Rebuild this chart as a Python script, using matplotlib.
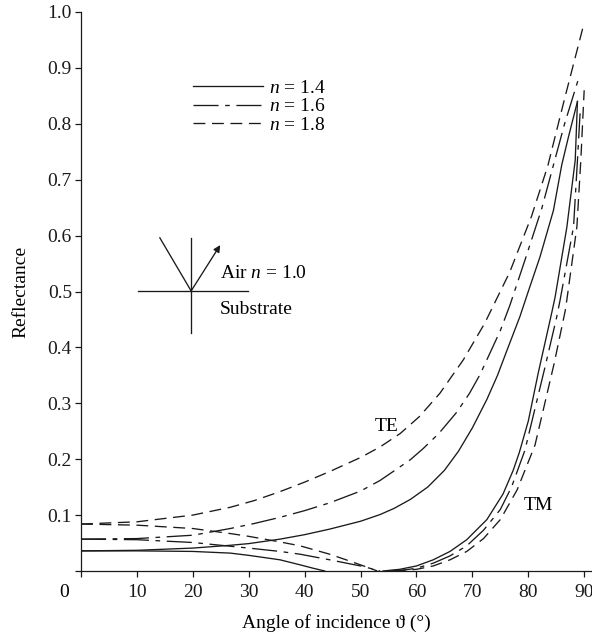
import matplotlib
matplotlib.use("Agg")
import matplotlib.pyplot as plt

plt.rcParams['font.family'] = ['Liberation Serif', 'DejaVu Serif']
plt.rcParams['mathtext.fontset'] = 'custom'
plt.rcParams['mathtext.rm'] = 'Liberation Serif'
plt.rcParams['mathtext.it'] = 'Liberation Serif:italic'

# Valores (angulo en grados, reflectancia)
te_14_ang = [0, 10, 20, 26.7, 30, 35.6, 40, 44.5, 50, 53.5, 56, 58.9, 62, 65,
             67.5, 70, 72.6, 74.5, 76.2, 78.5, 80, 82.1, 84.5, 86.0, 87.2,
             88.8]
te_14_ref = [0.036, 0.037, 0.041, 0.046, 0.049, 0.057, 0.065, 0.075, 0.089,
             0.101, 0.112, 0.128, 0.150, 0.180, 0.214, 0.256, 0.307, 0.350,
             0.395, 0.455, 0.500, 0.562, 0.645, 0.727, 0.777, 0.840]

te_16_ang = [0, 10, 20, 26.7, 31, 35.6, 40, 44.5, 50, 53.5, 58.9, 61.2, 64,
             67.2, 69.5, 71.4, 75, 76.7, 79.4, 82.4, 84.2, 86.5, 89.0]
te_16_ref = [0.057, 0.058, 0.064, 0.076, 0.085, 0.096, 0.108, 0.122, 0.143,
             0.162, 0.199, 0.219, 0.246, 0.284, 0.318, 0.352, 0.430, 0.475,
             0.556, 0.648, 0.715, 0.800, 0.881]

te_18_ang = [0, 10, 20, 26.7, 31, 35.6, 40, 44.5, 50, 53.5, 57.1, 60.5, 64.2,
             68.4, 72.2, 76.7, 80.6, 83.5, 86.5, 89.9]
te_18_ref = [0.084, 0.088, 0.100, 0.114, 0.126, 0.142, 0.159, 0.178, 0.203,
             0.222, 0.246, 0.276, 0.318, 0.378, 0.443, 0.535, 0.635, 0.725,
             0.845, 0.977]

# TM, rama baja (hasta el minimo)
tm_14_low_ang = [0, 10, 20, 26.7, 30, 35.6, 39.2, 41.5, 43.6]
tm_14_low_ref = [0.036, 0.036, 0.035, 0.032, 0.028, 0.020, 0.011, 0.005, 0.0]
tm_16_low_ang = [0, 10, 20, 25, 30, 35.6, 39.2, 44.5, 48, 50.5, 53.5]
tm_16_low_ref = [0.057, 0.056, 0.051, 0.046, 0.041, 0.035, 0.030, 0.020,
                 0.013, 0.008, 0.0]
tm_18_low_ang = [0, 10, 20, 26.7, 30, 35.6, 39.2, 44.5, 48, 51.7, 53]
tm_18_low_ref = [0.084, 0.082, 0.076, 0.067, 0.062, 0.052, 0.045, 0.030,
                 0.018, 0.005, 0.0]

# TM, rama alta
tm_14_high_ang = [54, 57, 60, 63, 66, 69, 72.6, 75.5, 77.3, 78.4, 80, 81.8,
                  84.2, 84.8, 86.9, 88.4, 88.8]
tm_14_high_ref = [0.0, 0.003, 0.009, 0.020, 0.035, 0.056, 0.092, 0.138,
                  0.180, 0.212, 0.268, 0.355, 0.462, 0.490, 0.615, 0.735,
                  0.840]
tm_16_high_ang = [55, 58, 60, 63, 66, 69, 72, 75, 77, 79.4, 83, 85.1, 85.7,
                  88.1, 88.8, 89.3]
tm_16_high_ref = [0.0, 0.002, 0.005, 0.014, 0.027, 0.045, 0.073, 0.110,
                  0.150, 0.216, 0.365, 0.455, 0.485, 0.616, 0.735, 0.825]
tm_18_high_ang = [56, 60, 63, 66, 69, 72, 75, 78, 81.2, 84.6, 86.6, 86.9,
                  88.7, 89.4, 90.0]
tm_18_high_ref = [0.0, 0.003, 0.009, 0.020, 0.035, 0.058, 0.092, 0.145,
                  0.225, 0.370, 0.465, 0.485, 0.616, 0.735, 0.860]

indices = ['1.4', '1.6', '1.8']

color = '#1a1a1a'
lw = 0.95
estilos = {
    '1.4': dict(linestyle='-'),
    '1.6': dict(dashes=(19, 5, 3.5, 5)),
    '1.8': dict(dashes=(9, 5)),
}

fig = plt.figure(figsize=(5.92, 6.37), dpi=100)
ax = fig.add_axes([81 / 592, 1 - 571 / 637, 1 - 81 / 592, (571 - 12) / 637])

te = {'1.4': (te_14_ang, te_14_ref), '1.6': (te_16_ang, te_16_ref),
      '1.8': (te_18_ang, te_18_ref)}
tm_low = {'1.4': (tm_14_low_ang, tm_14_low_ref),
          '1.6': (tm_16_low_ang, tm_16_low_ref),
          '1.8': (tm_18_low_ang, tm_18_low_ref)}
tm_high = {'1.4': (tm_14_high_ang, tm_14_high_ref),
           '1.6': (tm_16_high_ang, tm_16_high_ref),
           '1.8': (tm_18_high_ang, tm_18_high_ref)}

handles = []
for n in indices:
    h, = ax.plot(*te[n], color=color, lw=lw, **estilos[n])
    ax.plot(*tm_low[n], color=color, lw=lw, **estilos[n])
    ax.plot(*tm_high[n], color=color, lw=lw, **estilos[n])
    handles.append(h)

ax.legend(handles, [r'$n$ = ' + n for n in indices],
          loc='upper left', bbox_to_anchor=(193 / 592, 1 - 79 / 637),
          bbox_transform=fig.transFigure, frameon=False, fontsize=14,
          handlelength=3.6, handletextpad=0.3, labelspacing=0.06,
          borderpad=0, borderaxespad=0)

# esquema de la interfaz
ax.plot([10.2, 29.9], [0.501, 0.501], color=color, lw=lw)
ax.plot([19.7, 19.7], [0.426, 0.596], color=color, lw=lw)
ax.plot([14.1, 19.7], [0.596, 0.501], color=color, lw=lw)
ax.annotate('', xy=(24.9, 0.583), xytext=(19.7, 0.501),
            arrowprops=dict(arrowstyle='-|>', color=color, lw=lw,
                            mutation_scale=10, shrinkA=0, shrinkB=0))
ax.text(24.9, 0.524, r'Air $n$ = 1.0', fontsize=14, va='baseline')
ax.text(24.9, 0.459, 'Substrate', fontsize=14, va='baseline')

ax.text(54.7, 0.25, 'TE', fontsize=14, ha='center', va='baseline')
ax.text(81.8, 0.109, 'TM', fontsize=14, ha='center', va='baseline')

ax.set_xlim(0, 91.4)
ax.set_ylim(0, 1.0)
ax.set_xticks(range(0, 100, 10))
ax.set_xticklabels([''] + [str(v) for v in range(10, 100, 10)])
ax.set_yticks([i / 10 for i in range(11)])
ax.set_yticklabels([''] + ['%.1f' % (i / 10) for i in range(1, 11)])
ax.text(-3.0, -0.038, '0', fontsize=14, ha='center', va='center',
        clip_on=False)

ax.tick_params(direction='out', length=4.5, width=0.9, labelsize=14,
               colors=color)
ax.tick_params(axis='x', pad=5)
ax.tick_params(axis='y', pad=2)
for s in ['top', 'right']:
    ax.spines[s].set_visible(False)
for s in ['left', 'bottom']:
    ax.spines[s].set_linewidth(0.9)
    ax.spines[s].set_color(color)

ax.set_xlabel('Angle of incidence ϑ (°)', fontsize=14, labelpad=9)
ax.set_ylabel('Reflectance', fontsize=14, labelpad=13)

fig.savefig('out.png', dpi=100)
